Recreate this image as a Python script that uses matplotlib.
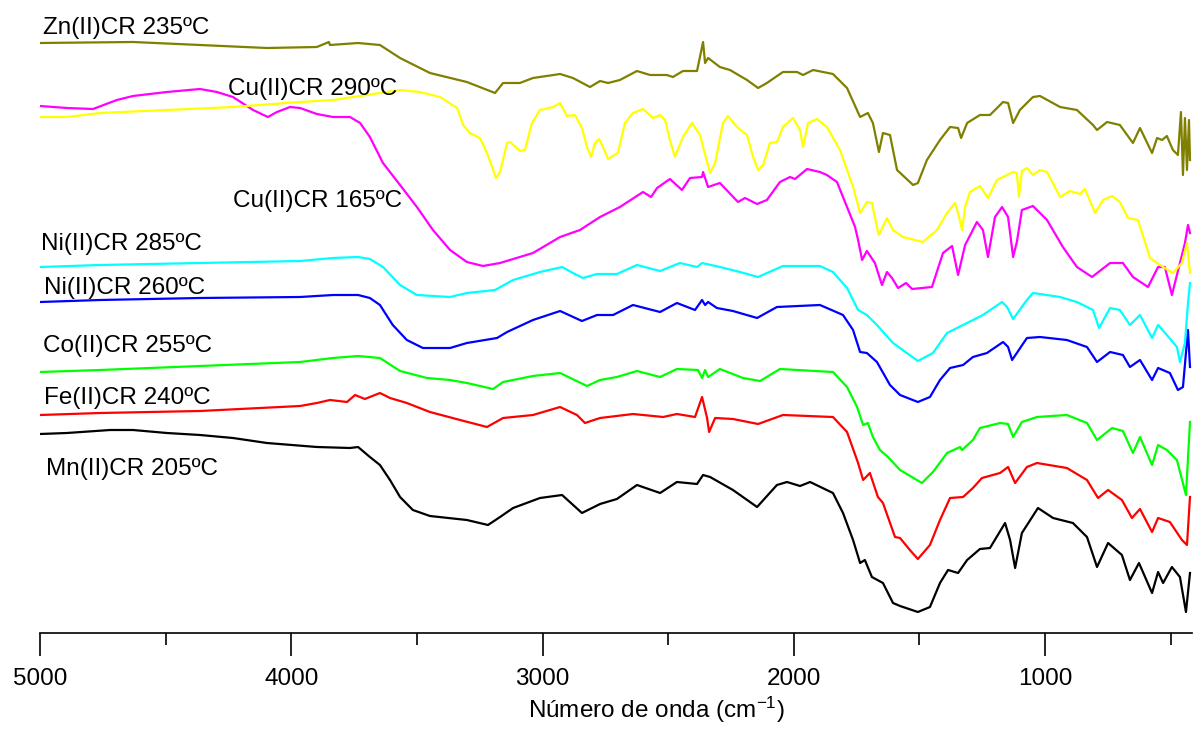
import matplotlib.pyplot as plt

plt.rcParams['font.family'] = ['Liberation Sans', 'DejaVu Sans']
plt.rcParams['mathtext.fontset'] = 'custom'
plt.rcParams['mathtext.rm'] = 'Liberation Sans'
plt.rcParams['mathtext.it'] = 'Liberation Sans'

# FTIR spectra, stacked with offsets (transmittance, a.u.)
zn_wn = [5000, 4630, 4097, 3898, 3850, 3846, 3734, 3647, 3567, 3448, 3301, 3189, 3157, 3090, 3038,
         2930, 2879, 2811, 2771, 2739, 2692, 2624, 2572, 2505, 2481, 2441, 2385, 2361, 2353, 2341,
         2294, 2254, 2186, 2142, 2107, 2043, 1987, 1963, 1923, 1844, 1788, 1736, 1705, 1685, 1661,
         1645, 1617, 1589, 1525, 1506, 1470, 1418, 1378, 1346, 1334, 1310, 1259, 1219, 1167, 1147,
         1127, 1100, 1048, 1020, 940, 873, 809, 793, 753, 702, 650, 622, 574, 554, 534, 515, 491,
         471, 459, 451, 443, 435, 427, 423]
zn_t = [590, 591, 585, 586, 591, 588, 590, 588, 575, 560, 551, 540, 550, 550, 555,
        559, 555, 546, 552, 550, 553, 562, 558, 558, 556, 562, 562, 591, 570, 575,
        566, 563, 553, 545, 550, 561, 561, 558, 563, 559, 545, 516, 520, 510, 481,
        500, 498, 463, 448, 450, 473, 493, 506, 505, 495, 510, 518, 518, 531, 530,
        510, 523, 536, 537, 526, 523, 508, 503, 511, 508, 490, 505, 480, 495, 493, 497, 483,
        478, 521, 458, 515, 463, 513, 473]

cu290_wn = [5000, 4893, 4761, 4495, 4232, 3965, 3834, 3699, 3567, 3488, 3408, 3340, 3316, 3289,
            3249, 3221, 3185, 3169, 3141, 3129, 3090, 3070, 3042, 3010, 2958, 2930, 2903, 2871,
            2843, 2823, 2807, 2791, 2775, 2759, 2739, 2700, 2672, 2640, 2600, 2560, 2532, 2512,
            2493, 2473, 2441, 2405, 2373, 2361, 2333, 2313, 2282, 2262, 2226, 2186, 2162, 2142,
            2122, 2095, 2067, 2043, 2003, 1975, 1963, 1943, 1908, 1868, 1816, 1764, 1736, 1709,
            1689, 1669, 1661, 1629, 1605, 1565, 1486, 1430, 1390, 1358, 1342, 1330, 1318, 1299,
            1259, 1227, 1191, 1127, 1112, 1104, 1092, 1072, 1048, 1020, 992, 940, 901, 861, 841,
            801, 769, 733, 702, 670, 630, 582, 530, 491, 455, 435, 423]
cu290_t = [516, 516, 520, 523, 526, 531, 533, 538, 543, 541, 536, 525, 508, 500,
           495, 480, 455, 461, 490, 491, 482, 483, 510, 523, 526, 530, 517, 518,
           505, 486, 476, 490, 494, 486, 474, 480, 510, 520, 524, 515, 518, 513,
           493, 476, 496, 510, 498, 486, 460, 470, 510, 517, 506, 498, 476, 463,
           468, 490, 491, 506, 515, 503, 486, 510, 514, 506, 483, 446, 420, 431,
           430, 406, 398, 415, 403, 396, 391, 403, 420, 430, 416, 403, 426, 441,
           447, 435, 453, 461, 460, 436, 462, 465, 458, 463, 461, 436, 442, 439, 444,
           420, 433, 437, 431, 415, 413, 375, 366, 360, 370, 390, 360]

cu165_wn = [5000, 4893, 4789, 4694, 4630, 4495, 4363, 4296, 4232, 4152, 4093, 4057, 4005, 3965,
            3898, 3834, 3766, 3726, 3687, 3635, 3567, 3500, 3436, 3368, 3301, 3237, 3169, 3038,
            2930, 2851, 2771, 2692, 2600, 2568, 2544, 2493, 2445, 2413, 2365, 2361, 2341, 2294,
            2222, 2194, 2146, 2107, 2055, 2015, 1995, 1947, 1896, 1868, 1828, 1788, 1756, 1744,
            1728, 1709, 1677, 1649, 1629, 1609, 1585, 1553, 1529, 1450, 1406, 1370, 1346, 1318,
            1271, 1247, 1227, 1199, 1171, 1147, 1127, 1112, 1092, 1048, 992, 929, 873, 813, 741,
            690, 650, 590, 550, 523, 495, 475, 443, 431, 423]
cu165_t = [527, 525, 524, 533, 537, 541, 544, 541, 536, 523, 516, 521, 526, 525,
           519, 516, 516, 510, 496, 470, 448, 426, 403, 383, 371, 367, 370, 380,
           396, 403, 416, 426, 441, 436, 445, 454, 443, 455, 456, 461, 446, 450,
           431, 435, 429, 433, 451, 456, 454, 464, 461, 458, 451, 426, 406, 393,
           373, 382, 370, 348, 361, 355, 345, 350, 344, 346, 380, 387, 358, 388,
           411, 403, 376, 416, 426, 416, 376, 391, 423, 427, 413, 386, 366, 356, 370,
           370, 356, 346, 366, 366, 338, 358, 390, 408, 400]

ni285_wn = [5000, 4761, 4363, 3965, 3834, 3734, 3687, 3635, 3567, 3500, 3368, 3301, 3189, 3117,
            3010, 2922, 2879, 2839, 2783, 2704, 2624, 2532, 2453, 2385, 2365, 2294, 2214, 2142,
            2043, 1896, 1844, 1788, 1744, 1709, 1669, 1605, 1506, 1446, 1390, 1326, 1247, 1171,
            1151, 1127, 1072, 1048, 940, 873, 809, 785, 741, 702, 662, 622, 574, 550, 515, 475,
            463, 443, 431, 423]
ni285_t = [366, 368, 370, 372, 375, 376, 374, 366, 348, 338, 336, 340, 343, 353,
           361, 366, 360, 355, 359, 359, 368, 362, 370, 366, 370, 366, 361, 356,
           367, 367, 361, 345, 323, 318, 308, 290, 272, 280, 300, 308, 318, 331,
           326, 314, 333, 340, 336, 331, 323, 305, 325, 323, 308, 318, 295, 308, 298, 286,
           271, 290, 330, 350]

ni260_wn = [5000, 4761, 4363, 3965, 3834, 3734, 3687, 3647, 3596, 3540, 3476, 3368, 3301, 3181,
            3141, 3038, 2930, 2843, 2783, 2719, 2640, 2532, 2465, 2393, 2365, 2353, 2341, 2306,
            2242, 2146, 2067, 1896, 1868, 1804, 1764, 1736, 1709, 1669, 1617, 1577, 1506, 1458,
            1418, 1378, 1326, 1287, 1231, 1167, 1147, 1131, 1072, 1020, 913, 833, 793, 741, 690,
            662, 622, 574, 550, 503, 471, 451, 431, 423]
ni260_t = [331, 333, 335, 336, 338, 338, 335, 328, 308, 293, 285, 285, 290, 295,
           301, 313, 322, 312, 318, 318, 328, 321, 330, 323, 333, 328, 331, 325,
           322, 315, 326, 328, 325, 318, 303, 281, 280, 271, 248, 238, 231, 236,
           253, 265, 268, 276, 280, 291, 286, 273, 295, 296, 293, 286, 271, 281, 278,
           266, 273, 253, 265, 260, 243, 246, 303, 266]

co_wn = [5000, 4761, 4363, 3965, 3834, 3734, 3647, 3567, 3460, 3368, 3301, 3197, 3157, 3038,
         2930, 2823, 2771, 2704, 2624, 2532, 2465, 2381, 2365, 2353, 2341, 2294, 2202, 2134,
         2055, 1844, 1788, 1748, 1724, 1705, 1685, 1657, 1625, 1577, 1490, 1446, 1390, 1338,
         1330, 1287, 1259, 1179, 1147, 1127, 1092, 1032, 913, 833, 793, 733, 690, 650, 622, 574,
         550, 515, 475, 439, 423]
co_t = [261, 263, 267, 271, 275, 277, 275, 262, 255, 253, 250, 244, 251, 257,
        260, 247, 253, 256, 262, 256, 264, 263, 255, 263, 256, 264, 255, 252,
        264, 261, 246, 226, 208, 210, 196, 183, 176, 163, 150, 161, 180, 186,
        183, 193, 205, 210, 209, 196, 211, 216, 218, 210, 193, 205, 202, 180, 196, 168,
        188, 183, 173, 138, 211]

fe_wn = [5000, 4761, 4363, 3965, 3898, 3846, 3778, 3746, 3707, 3647, 3607, 3540, 3448, 3328,
         3221, 3157, 3038, 2930, 2863, 2831, 2771, 2640, 2520, 2465, 2393, 2365, 2345, 2337,
         2313, 2242, 2142, 2043, 1844, 1788, 1744, 1724, 1697, 1665, 1645, 1597, 1577, 1538,
         1506, 1458, 1418, 1378, 1326, 1287, 1251, 1179, 1147, 1119, 1072, 1032, 913, 833, 789,
         749, 694, 654, 622, 574, 550, 503, 455, 435, 423]
fe_t = [218, 220, 222, 227, 230, 233, 231, 238, 234, 240, 235, 230, 221, 213,
        206, 215, 218, 226, 218, 210, 215, 219, 216, 219, 216, 236, 215, 201,
        215, 214, 209, 218, 216, 201, 170, 153, 160, 136, 130, 96, 95, 83,
        74, 88, 113, 135, 136, 145, 155, 160, 166, 150, 166, 170, 165, 153, 135,
        143, 133, 115, 124, 101, 115, 111, 93, 88, 136]

mn_wn = [5000, 4893, 4721, 4630, 4495, 4363, 4232, 4097, 3898, 3766, 3734, 3687, 3647, 3607,
         3567, 3516, 3448, 3301, 3217, 3169, 3117, 3010, 2922, 2843, 2771, 2704, 2624, 2532,
         2465, 2385, 2361, 2333, 2242, 2146, 2067, 2027, 1975, 1935, 1844, 1804, 1764, 1736,
         1717, 1689, 1645, 1605, 1577, 1506, 1458, 1418, 1386, 1346, 1310, 1259, 1219, 1159,
         1139, 1119, 1092, 1028, 968, 889, 833, 793, 749, 694, 662, 626, 574, 550, 530, 495,
         463, 439, 423]
mn_t = [199, 200, 203, 203, 200, 198, 195, 190, 186, 185, 186, 176, 168, 153,
        136, 123, 117, 113, 108, 116, 125, 135, 138, 120, 129, 134, 148, 140,
        151, 149, 158, 156, 143, 126, 148, 151, 147, 151, 140, 120, 93, 70,
        73, 56, 50, 30, 27, 21, 26, 50, 63, 60, 73, 84, 85, 110,
        93, 65, 100, 125, 115, 110, 96, 66, 90, 78, 53, 70, 40, 61, 50, 66,
        56, 21, 60]

spectra = [
    (mn_wn, mn_t, 'black'),
    (fe_wn, fe_t, '#ff0000'),
    (co_wn, co_t, '#00ff00'),
    (ni260_wn, ni260_t, '#0000ff'),
    (ni285_wn, ni285_t, '#00ffff'),
    (cu165_wn, cu165_t, '#ff00ff'),
    (cu290_wn, cu290_t, '#ffff00'),
    (zn_wn, zn_t, '#808000'),
]

# sample labels: text, x (cm-1), baseline y
labels = ['Zn(II)CR 235ºC', 'Cu(II)CR 290ºC', 'Cu(II)CR 165ºC', 'Ni(II)CR 285ºC',
          'Ni(II)CR 260ºC', 'Co(II)CR 255ºC', 'Fe(II)CR 240ºC', 'Mn(II)CR 205ºC']
label_x = [4988, 4252, 4232, 4996, 4984, 4988, 4984, 4976]
label_y = [599, 538, 426, 383, 339, 281, 229, 158]

fig = plt.figure(figsize=(11.93, 7.29), dpi=100)
ax = fig.add_axes([40 / 1193, 96 / 729, 1152 / 1193, 633 / 729])

for wn, t, c in spectra:
    ax.plot(wn, t, color=c, lw=1.6)

for txt, lx, ly in zip(labels, label_x, label_y):
    ax.text(lx, ly, txt, fontsize=17.5, ha='left', va='baseline')

ax.set_xlim(5000, 415)
ax.set_ylim(0, 633)
ax.set_xticks([5000, 4000, 3000, 2000, 1000])
ax.set_xticks([4500, 3500, 2500, 1500, 500], minor=True)
ax.tick_params(axis='x', which='major', direction='out', length=16.5, width=1.2,
               labelsize=17.5, pad=9)
ax.tick_params(axis='x', which='minor', direction='out', length=8.5, width=1.2)
ax.set_yticks([])
for s in ['left', 'right', 'top']:
    ax.spines[s].set_visible(False)
ax.spines['bottom'].set_linewidth(1.2)

ax.set_xlabel('Número de onda (cm$^{-1}$)', fontsize=17.5)
ax.xaxis.set_label_coords(0.535, -0.098)

fig.savefig('out.png', dpi=100)
